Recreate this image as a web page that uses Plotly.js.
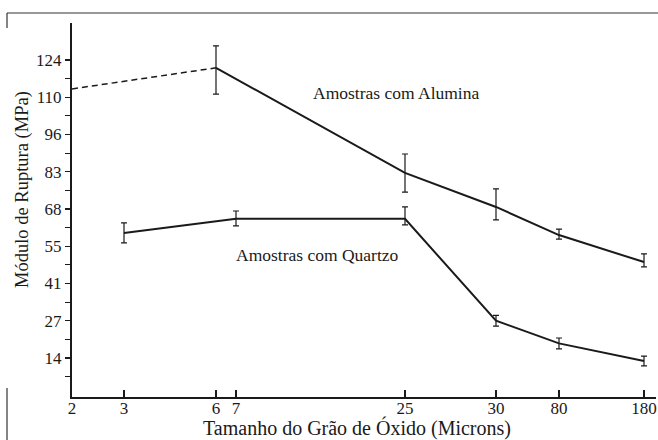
<!DOCTYPE html>
<html><head><meta charset="utf-8">
<script src="https://cdn.plot.ly/plotly-3.0.1.min.js"></script>
<style>body{margin:0;background:#fff}#chart{width:658px;height:440px}</style>
</head><body><div id="chart"></div>
<script>
// X axis: grain size tick labels and their positions along the (non-uniform) axis
const xTickLabels = ['2', '3', '6', '7', '25', '30', '80', '180'];
const xTickPos = [0, 52, 144, 164, 333, 424, 487, 572];

// Y axis: ticks are 2 ksi steps, labelled in MPa
const yTickVals = [13.79, 27.58, 41.37, 55.16, 68.95, 82.74, 96.53, 110.32, 124.11];
const yTickLabels = ['14', '27', '41', '55', '68', '83', '96', '110', '124'];

// Alumina series
const aluminaSizes = ['6', '25', '30', '80', '180'];
const aluminaValues = [121.2, 82.3, 69.7, 59.3, 49.3];
const aluminaErrPlus = [8.1, 7.0, 6.7, 2.2, 3.0];
const aluminaErrMinus = [9.7, 7.1, 4.8, 1.5, 1.8];

// Alumina extrapolation (dashed)
const aluminaExtSizes = ['2', '6'];
const aluminaExtValues = [113.4, 121.2];

// Quartz series
const quartzSizes = ['3', '7', '25', '30', '80', '180'];
const quartzValues = [60.1, 65.3, 65.3, 27.6, 19.2, 12.7];
const quartzErrPlus = [3.7, 2.9, 4.4, 2.0, 2.0, 1.8];
const quartzErrMinus = [3.7, 2.6, 2.2, 2.0, 2.0, 1.8];

const posOf = s => xTickPos[xTickLabels.indexOf(s)];
const FONT = 'Liberation Serif';
const INK = '#1a1a1a';

const traces = [
  {
    x: aluminaExtSizes.map(posOf), y: aluminaExtValues, mode: 'lines',
    line: {color: INK, width: 1.5, dash: '6px,4px'}, hoverinfo: 'skip'
  },
  {
    x: aluminaSizes.map(posOf), y: aluminaValues, mode: 'lines',
    line: {color: INK, width: 2},
    error_y: {type: 'data', symmetric: false, array: aluminaErrPlus, arrayminus: aluminaErrMinus,
              color: INK, thickness: 1.2, width: 3}
  },
  {
    x: quartzSizes.map(posOf), y: quartzValues, mode: 'lines',
    line: {color: INK, width: 2},
    error_y: {type: 'data', symmetric: false, array: quartzErrPlus, arrayminus: quartzErrMinus,
              color: INK, thickness: 1.2, width: 3}
  }
];

const minorVals = [];
for (let i = 0; i < yTickVals.length; i++) {
  const prev = i === 0 ? 0 : yTickVals[i - 1];
  minorVals.push((prev + yTickVals[i]) / 2);
}

const W = 658, H = 440, L = 72, R = 2, T = 23, B = 43;
const pw = W - L - R, ph = H - T - B;
const px = v => (v - L) / pw;
const py = v => (H - B - v) / ph;

const label = (text, x, y, size, angle) => ({
  text, xref: 'paper', yref: 'paper', x: px(x), y: py(y),
  xanchor: 'center', yanchor: 'middle', textangle: angle || 0,
  showarrow: false, borderpad: 0, font: {family: FONT, size, color: INK}
});

const layout = {
  width: W, height: H,
  margin: {l: L, r: R, t: T, b: B, pad: 0},
  paper_bgcolor: '#fff', plot_bgcolor: '#fff',
  showlegend: false,
  font: {family: FONT, color: INK, size: 17},
  xaxis: {
    range: [0, pw], showgrid: false, zeroline: false,
    showline: true, linecolor: INK, linewidth: 2,
    tickmode: 'array', tickvals: xTickPos, ticktext: xTickLabels,
    ticks: 'inside', ticklen: 7, tickwidth: 1.2, tickcolor: INK,
    ticklabelstandoff: -5,
    tickfont: {family: FONT, size: 17, color: INK}
  },
  yaxis: {
    range: [-0.65, 137.8], showgrid: false, zeroline: false,
    showline: true, linecolor: INK, linewidth: 2,
    tickmode: 'array', tickvals: yTickVals, ticktext: yTickLabels,
    ticks: 'outside', ticklen: 5, tickwidth: 1.2, tickcolor: INK,
    tickfont: {family: FONT, size: 17, color: INK},
    minor: {tickmode: 'array', tickvals: minorVals, ticks: 'outside', ticklen: 5, tickwidth: 1.2, tickcolor: INK}
  },
  annotations: [
    label('Amostras com Alumina', 396, 93, 17.5),
    label('Amostras com Quartzo', 317, 255, 17.5),
    label('Tamanho do Grão de Óxido (Microns)', 357, 427.5, 20),
    label('Módulo de Ruptura (MPa)', 22, 190, 18.5, -90)
  ],
  shapes: [
    {type: 'line', xref: 'paper', yref: 'paper', x0: px(7), x1: px(658), y0: py(13), y1: py(13), line: {color: '#333', width: 1.2}},
    {type: 'line', xref: 'paper', yref: 'paper', x0: px(7), x1: px(7), y0: py(13), y1: py(28), line: {color: '#333', width: 1.2}},
    {type: 'line', xref: 'paper', yref: 'paper', x0: px(7), x1: px(7), y0: py(388), y1: py(440), line: {color: '#333', width: 1.2}}
  ]
};

Plotly.newPlot('chart', traces, layout, {staticPlot: true, displayModeBar: false});
</script></body></html>
